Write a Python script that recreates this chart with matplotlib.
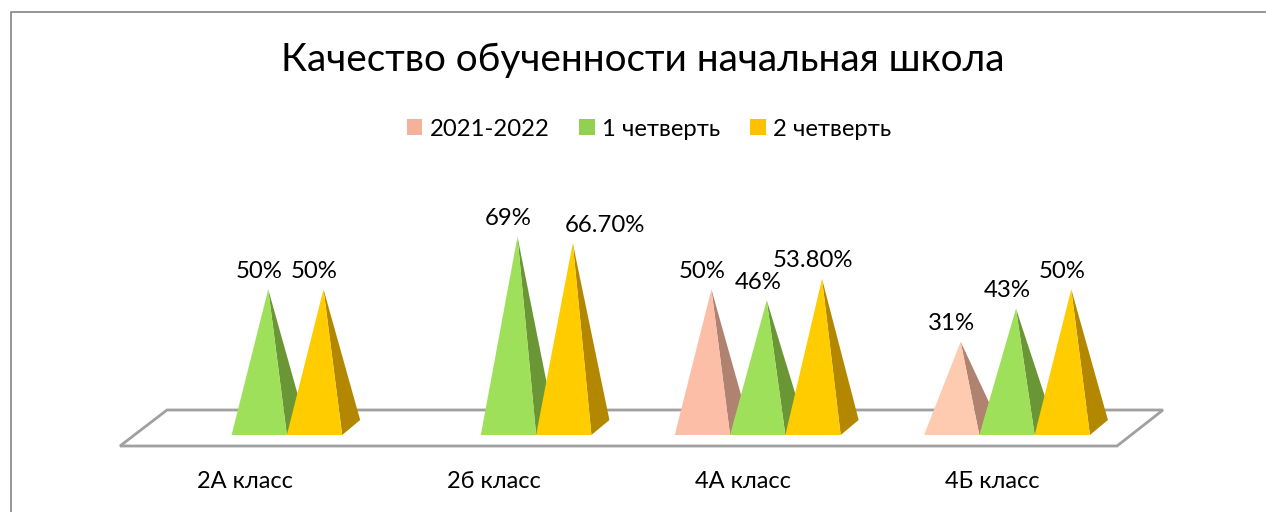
import numpy as np
import matplotlib
matplotlib.use("Agg")
import matplotlib.pyplot as plt
from matplotlib.patches import Patch, Polygon
from matplotlib.lines import Line2D

plt.rcParams['font.family'] = ['Lato', 'Noto Sans']

title = "Качество обученности начальная школа"
categories = ["2А класс", "2б класс", "4А класс", "4Б класс"]
series_names = ["2021-2022", "1 четверть", "2 четверть"]
prev_year = [np.nan, np.nan, 50, 31]
quarter_1 = [50, 69, 46, 43]
quarter_2 = [50, 66.7, 53.8, 50]
value_labels = [
    [None, None, "50%", "31%"],
    ["50%", "69%", "46%", "43%"],
    ["50%", "66.70%", "53.80%", "50%"],
]

legend_colors = ["#F4B29A", "#92D050", "#FFC000"]
front_colors = [["#FDBEA7", "#FDBEA7", "#FDBEA7", "#FFCBB0"],
                ["#9FE05A"] * 4,
                ["#FFCC00"] * 4]
side_colors = ["#B08370", "#6B9636", "#B38800"]

W, H = 1266, 512
fig = plt.figure(figsize=(W / 100, H / 100), dpi=100)

# axes span the front edge of the floor, y=0 is the foot of the pyramids
y_top = 100
px_per_pct = 2.765
ax_left, ax_right = 120, 1117
ax_base = 435
ax = fig.add_axes([ax_left / W, (H - ax_base) / H, (ax_right - ax_left) / W, y_top * px_per_pct / H])
ax.set_xlim(-0.5, 3.5)
ax.set_ylim(0, y_top)
ax.axis("off")

px_x = 4 / (ax_right - ax_left)
px_y = 1 / px_per_pct

# chart frame, open at the bottom and on the right
fig.add_artist(Line2D([11 / W, 11 / W, 1], [0, 1 - 12 / H, 1 - 12 / H], color="#8C8C8C", lw=1.3))

# floor
floor = Polygon([(-0.5, -11 * px_y), (3.5, -11 * px_y), (3.5 + 46 * px_x, 25 * px_y), (-0.5 + 47 * px_x, 25 * px_y)],
                closed=True, facecolor="white", edgecolor="#A0A0A0", lw=2, clip_on=False, zorder=1)
ax.add_patch(floor)

bar_w = 55.3 * px_x
depth_x, depth_y = 18 * px_x, 15 * px_y
shift = 14.6 * px_x

# the one label that was dragged aside in the original, px
label_dx = {(2, 1): 41}

all_series = [prev_year, quarter_1, quarter_2]
z = 2
for i in range(len(categories)):
    for j, values in enumerate(all_series):
        v = values[i]
        if np.isnan(v):
            continue
        x0 = i + shift + (j - 1.5) * bar_w
        x1 = x0 + bar_w
        xc = (x0 + x1) / 2
        tip = (xc + depth_x / 2, v + depth_y / 2)
        ax.add_patch(Polygon([(x1, 0), (x1 + depth_x, depth_y), tip], closed=True,
                             facecolor=side_colors[j], edgecolor="none", clip_on=False, zorder=z))
        ax.add_patch(Polygon([(x0, 0), (x1, 0), tip], closed=True,
                             facecolor=front_colors[j][i], edgecolor="none", clip_on=False, zorder=z + 0.5))
        z += 1
        ax.text(xc + label_dx.get((j, i), 0) * px_x, tip[1] + 18 * px_y, value_labels[j][i],
                ha="center", va="center", fontsize=17.3, color="black", zorder=50, clip_on=False)

for i, name in enumerate(categories):
    ax.text(i, -46.5 * px_y, name, ha="center", va="center", fontsize=17, color="black", clip_on=False)

fig.text(643 / W, 1 - 60 / H, title, ha="center", va="center", fontsize=27.9, color="black")

handles = [Patch(facecolor=c, edgecolor="none") for c in legend_colors]
fig.legend(handles, series_names, loc="center", bbox_to_anchor=(649 / W, 1 - 129 / H), ncol=3, frameon=False,
           fontsize=17.2, handlelength=0.65, handleheight=0.65, handletextpad=0.3, columnspacing=1.25)

fig.savefig("out.png", dpi=100)
